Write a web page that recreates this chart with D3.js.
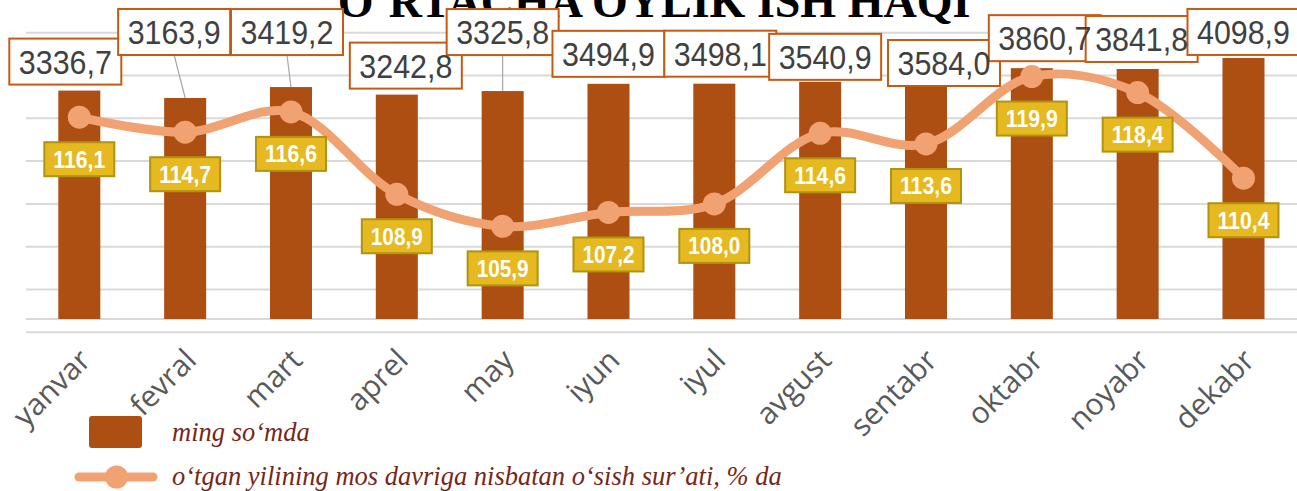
<!DOCTYPE html>
<html>
<head>
<meta charset="utf-8">
<script src="https://cdn.jsdelivr.net/npm/d3@7"></script>
<style>
  html, body { margin: 0; padding: 0; background: #ffffff; }
  svg { display: block; }
</style>
</head>
<body>
<svg id="chart" width="1297" height="491"></svg>
<script>
// Monthly data: average wage (thousand so'm) and growth vs. same period last year (%)
const months = ["yanvar", "fevral", "mart", "aprel", "may", "iyun", "iyul", "avgust", "sentabr", "oktabr", "noyabr", "dekabr"];
const wages = [3336.7, 3163.9, 3419.2, 3242.8, 3325.8, 3494.9, 3498.1, 3540.9, 3584.0, 3860.7, 3841.8, 4098.9];
const growth = [116.1, 114.7, 116.6, 108.9, 105.9, 107.2, 108.0, 114.6, 113.6, 119.9, 118.4, 110.4];
const growthTicks = [96, 100, 104, 108, 112, 116, 120, 124];
const titleText = "O‘RTACHA OYLIK ISH HAQI";
const legendLabels = ["ming so‘mda", "o‘tgan yilining mos davriga nisbatan o‘sish sur’ati, % da"];

// Manual nudges of the wage labels: [dx, dy] of the box centre from the bar top
const wageLabelNudge = [[-14, -29], [-11, -66], [-4, -55], [9, -29], [0, -59], [0, -30],
                        [6, -30], [5, -25], [18, -17], [13, -30], [4, -30], [0, -26]];

const C = {
  bar: "#AD4E13",
  line: "#F1A272",
  grid: "#D9D9D9",
  boxBorder: "#C55A11",
  boxText: "#404040",
  tagFill: "#E5B91F",
  tagBorder: "#B09311",
  axisText: "#595959",
  legendText: "#772618"
};

const loc = d3.formatLocale({ decimal: ",", thousands: " ", grouping: [3], currency: ["", ""] });
const fmt = loc.format(".1f");

const svg = d3.select("#chart");

const x = d3.scaleBand().domain(months).range([26.4, 1296.4]).paddingInner(0.603).paddingOuter(0.3015);
const yBar = d3.scaleLinear().domain([-2000, 5000]).range([319, 19.4]);
const yLine = d3.scaleLinear().domain([96, 124]).range([332.3, 32.7]);
const cx = m => x(m) + x.bandwidth() / 2;

// Gridlines
svg.append("g").selectAll("line").data(growthTicks).join("line")
  .attr("x1", 26).attr("x2", 1297)
  .attr("y1", d => yLine(d)).attr("y2", d => yLine(d))
  .attr("stroke", C.grid).attr("stroke-width", 2);

// Category axis line
svg.append("line")
  .attr("x1", 26).attr("x2", 1297)
  .attr("y1", yBar(-2000)).attr("y2", yBar(-2000))
  .attr("stroke", C.grid).attr("stroke-width", 2);

// Title
svg.append("text")
  .attr("x", 654).attr("y", 17)
  .attr("text-anchor", "middle")
  .attr("font-family", "'Liberation Serif', 'Times New Roman', serif")
  .attr("font-weight", "bold")
  .attr("font-size", 46)
  .attr("fill", "#000")
  .text(titleText);

// Bars
svg.append("g").selectAll("rect").data(months).join("rect")
  .attr("x", d => x(d))
  .attr("width", x.bandwidth())
  .attr("y", (d, i) => yBar(wages[i]))
  .attr("height", (d, i) => yBar(-2000) - yBar(wages[i]))
  .attr("fill", C.bar);

// Wage labels (white boxes): leaders and boxes first, then all texts on top
const wageBoxes = svg.append("g");
const wageTexts = svg.append("g");
months.forEach((m, i) => {
  const top = yBar(wages[i]);
  const bx = cx(m) + wageLabelNudge[i][0];
  const by = top + wageLabelNudge[i][1];
  const w = 112, h = 46;
  if (top - (by + h / 2) > 15) {
    wageBoxes.append("line")
      .attr("x1", bx).attr("y1", by + h / 2)
      .attr("x2", cx(m)).attr("y2", top)
      .attr("stroke", "#A6A6A6").attr("stroke-width", 1.2);
  }
  wageBoxes.append("rect")
    .attr("x", bx - w / 2).attr("y", by - h / 2)
    .attr("width", w).attr("height", h)
    .attr("fill", "#fff")
    .attr("stroke", C.boxBorder).attr("stroke-width", 2);
  wageTexts.append("text")
    .attr("x", bx).attr("y", by + 12)
    .attr("text-anchor", "middle")
    .attr("font-family", "'Liberation Sans', Arial, sans-serif")
    .attr("font-size", 33)
    .attr("textLength", 93)
    .attr("lengthAdjust", "spacingAndGlyphs")
    .attr("fill", C.boxText)
    .text(fmt(wages[i]));
});

// Growth line
const pts = months.map((m, i) => [cx(m), yLine(growth[i])]);
svg.append("path")
  .attr("d", d3.line().curve(d3.curveCatmullRom.alpha(0.5))(pts))
  .attr("fill", "none")
  .attr("stroke", C.line)
  .attr("stroke-width", 9)
  .attr("stroke-linecap", "round");
svg.append("g").selectAll("circle").data(pts).join("circle")
  .attr("cx", d => d[0]).attr("cy", d => d[1]).attr("r", 11.5)
  .attr("fill", C.line);

// Growth labels (yellow tags)
const gl = svg.append("g");
months.forEach((m, i) => {
  const [px, py] = pts[i];
  const ty = py + 42;
  const w = 70, h = 34;
  gl.append("rect")
    .attr("x", px - w / 2).attr("y", ty - h / 2)
    .attr("width", w).attr("height", h)
    .attr("fill", C.tagFill)
    .attr("stroke", C.tagBorder).attr("stroke-width", 2);
  gl.append("text")
    .attr("x", px).attr("y", ty + 8.5)
    .attr("text-anchor", "middle")
    .attr("font-family", "'Liberation Sans', Arial, sans-serif")
    .attr("font-weight", "bold")
    .attr("font-size", 24)
    .attr("textLength", 52)
    .attr("lengthAdjust", "spacingAndGlyphs")
    .attr("fill", "#fff")
    .text(fmt(growth[i]));
});

// Category labels, rotated
svg.append("g").selectAll("text").data(months).join("text")
  .attr("transform", d => `translate(${cx(d) + 13},${362}) rotate(-45)`)
  .attr("text-anchor", "end")
  .attr("font-family", "'Open Sans', sans-serif")
  .attr("font-size", 30)
  .attr("fill", C.axisText)
  .text(d => d);

// Legend
const lg = svg.append("g");
lg.append("rect")
  .attr("x", 89).attr("y", 416).attr("width", 53).attr("height", 32).attr("rx", 3)
  .attr("fill", C.bar);
lg.append("line")
  .attr("x1", 79).attr("x2", 153).attr("y1", 477).attr("y2", 477)
  .attr("stroke", C.line).attr("stroke-width", 9).attr("stroke-linecap", "round");
lg.append("circle").attr("cx", 116.5).attr("cy", 477).attr("r", 11.5).attr("fill", C.line);
lg.selectAll("text.lt").data(legendLabels).join("text")
  .attr("class", "lt")
  .attr("x", 172)
  .attr("y", (d, i) => i === 0 ? 441 : 485)
  .attr("font-family", "'Liberation Serif', 'Times New Roman', serif")
  .attr("font-style", "italic")
  .attr("font-size", 26.5)
  .attr("fill", C.legendText)
  .text(d => d);
</script>
</body>
</html>
